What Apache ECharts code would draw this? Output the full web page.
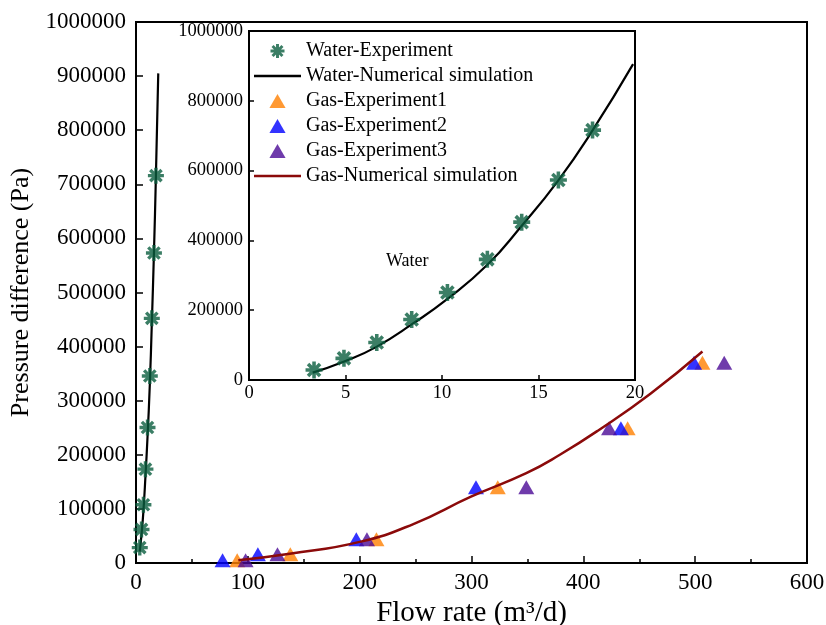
<!DOCTYPE html>
<html>
<head>
<meta charset="utf-8">
<script src="https://cdn.jsdelivr.net/npm/echarts@6/dist/echarts.min.js"></script>
<style>
  html, body { margin: 0; padding: 0; background: #fff; }
  #chart { width: 826px; height: 625px; }
</style>
</head>
<body>
<div id="chart"></div>
<script>
// water: flow rate (m3/d) vs pressure difference (Pa)
const waterExpX = [3.37, 4.92, 6.62, 8.43, 10.28, 12.35, 14.13, 16.03, 17.8];
const waterExpY = [28500, 62000, 107700, 173400, 250500, 345700, 452300, 573000, 716000];
const waterSimX = [3.3, 4.9, 6.6, 8.5, 10.3, 12.35, 14.1, 16.0, 17.8, 19.9];
const waterSimY = [21000, 52000, 95000, 162000, 233000, 330000, 440000, 570000, 715000, 905000];

// gas experiments
const gas1X = [90.5, 138, 215, 323.5, 439.6, 506.5];
const gas1Y = [5000, 16000, 44000, 140000, 249000, 370000];
const gas2X = [77.4, 109, 197, 304, 433.6, 499];
const gas2Y = [5000, 16000, 44000, 140000, 249000, 370000];
const gas3X = [98, 126.5, 206.5, 349, 423, 526];
const gas3Y = [5000, 16000, 44000, 140000, 249000, 370000];
const gasSimX = [91.5, 137.5, 200, 248, 300, 349, 379, 414, 460, 506.5];
const gasSimY = [5000, 17000, 39000, 72000, 123000, 166000, 200000, 246000, 313000, 391000];

const legendNames = ['Water-Experiment', 'Water-Numerical simulation', 'Gas-Experiment1',
  'Gas-Experiment2', 'Gas-Experiment3', 'Gas-Numerical simulation'];

const pair = (xs, ys) => xs.map((x, i) => [x, ys[i]]);

// 8 spoke asterisk built from rotated bars
function starPath() {
  const L = 10, w = 2.1;
  let p = '';
  [0, 45, 90, 135].forEach((deg) => {
    const a = deg * Math.PI / 180;
    const dx = Math.cos(a), dy = Math.sin(a);
    const nx = -dy, ny = dx;
    const pts = [
      [L * dx + w * nx, L * dy + w * ny],
      [L * dx - w * nx, L * dy - w * ny],
      [-L * dx - w * nx, -L * dy - w * ny],
      [-L * dx + w * nx, -L * dy + w * ny],
    ].map((q) => (q[0] + 12).toFixed(2) + ' ' + (q[1] + 12).toFixed(2));
    p += 'M' + pts[0] + ' L' + pts[1] + ' L' + pts[2] + ' L' + pts[3] + ' Z ';
  });
  return 'path://' + p;
}
const STAR = starPath();
const TRI = 'path://M0 13 L7.5 0 L15 13 Z';
const LINE_ICON = 'path://M0 0 H47 V2.4 H0 Z';

const FONT = 'Liberation Serif';
const GREEN = '#0a5e3e';
const ORANGE = '#ff8000';
const BLUE = '#0000ff';
const PURPLE = '#4b0a96';
const DARKRED = '#8b0a0a';

const chart = echarts.init(document.getElementById('chart'));

const axisCommon = {
  axisLine: { show: true, onZero: false, lineStyle: { color: '#000', width: 2 } },
  axisTick: { show: true, inside: true, length: 7, lineStyle: { color: '#000', width: 1.5 } },
  splitLine: { show: false },
  axisLabel: { color: '#000', fontFamily: FONT, formatter: (v) => String(v) },
};

const option = {
  animation: false,
  backgroundColor: '#fff',
  grid: [
    { left: 136, top: 22, width: 671, height: 541, show: true, borderColor: '#000', borderWidth: 2, outerBoundsMode: 'none' },
    { left: 249, top: 31, width: 386, height: 349, show: true, borderColor: '#000', borderWidth: 2, outerBoundsMode: 'none' },
  ],
  xAxis: [
    Object.assign({}, axisCommon, {
      gridIndex: 0, type: 'value', min: 0, max: 600, interval: 100,
      minorTick: { show: true, splitNumber: 2, length: 4, lineStyle: { color: '#000', width: 1.5 } },
      axisLabel: Object.assign({}, axisCommon.axisLabel, { fontSize: 23, margin: 8 }),
      name: 'Flow rate (m³/d)', nameLocation: 'middle', nameGap: 24,
      nameTextStyle: { color: '#000', fontFamily: FONT, fontSize: 29 },
    }),
    Object.assign({}, axisCommon, {
      gridIndex: 1, type: 'value', min: 0, max: 20, interval: 5,
      axisTick: Object.assign({}, axisCommon.axisTick, { length: 5 }),
      axisLabel: Object.assign({}, axisCommon.axisLabel, { fontSize: 18.5, margin: 4 }),
    }),
  ],
  yAxis: [
    Object.assign({}, axisCommon, {
      gridIndex: 0, type: 'value', min: 0, max: 1000000, interval: 100000,
      axisLabel: Object.assign({}, axisCommon.axisLabel, { fontSize: 23, margin: 10 }),
      name: 'Pressure difference (Pa)', nameLocation: 'middle', nameGap: 101,
      nameTextStyle: { color: '#000', fontFamily: FONT, fontSize: 26 },
    }),
    Object.assign({}, axisCommon, {
      gridIndex: 1, type: 'value', min: 0, max: 1000000, interval: 200000,
      axisTick: Object.assign({}, axisCommon.axisTick, { length: 5 }),
      axisLabel: Object.assign({}, axisCommon.axisLabel, { fontSize: 18.5, margin: 6 }),
    }),
  ],
  legend: {
    data: [
      { name: legendNames[0], icon: STAR },
      { name: legendNames[1], icon: LINE_ICON },
      { name: legendNames[2], icon: TRI },
      { name: legendNames[3], icon: TRI },
      { name: legendNames[4], icon: TRI },
      { name: legendNames[5], icon: LINE_ICON },
    ],
    orient: 'vertical',
    left: 254,
    top: 41,
    padding: 0,
    itemWidth: 47,
    itemHeight: 14,
    itemGap: 5,
    textStyle: { color: '#000', fontFamily: FONT, fontSize: 20 },
    selectedMode: false,
  },
  graphic: [
    {
      type: 'text', left: 386, top: 252,
      style: { text: 'Water', fill: '#000', font: '18px "Liberation Serif"' },
    },
  ],
  series: [
    {
      name: 'Water-Experiment', type: 'scatter', xAxisIndex: 0, yAxisIndex: 0,
      symbol: STAR, symbolSize: 16, itemStyle: { color: GREEN },
      data: pair(waterExpX, waterExpY), z: 3,
    },
    {
      name: 'Water-Numerical simulation', type: 'line', xAxisIndex: 0, yAxisIndex: 0,
      smooth: true, symbol: 'none', lineStyle: { color: '#000', width: 2.2 }, itemStyle: { color: '#000' },
      data: pair(waterSimX, waterSimY),
    },
    {
      name: 'Gas-Experiment1', type: 'scatter', xAxisIndex: 0, yAxisIndex: 0,
      symbol: TRI, symbolSize: [16, 14], itemStyle: { color: ORANGE },
      data: pair(gas1X, gas1Y),
    },
    {
      name: 'Gas-Experiment2', type: 'scatter', xAxisIndex: 0, yAxisIndex: 0,
      symbol: TRI, symbolSize: [16, 14], itemStyle: { color: BLUE },
      data: pair(gas2X, gas2Y),
    },
    {
      name: 'Gas-Experiment3', type: 'scatter', xAxisIndex: 0, yAxisIndex: 0,
      symbol: TRI, symbolSize: [16, 14], itemStyle: { color: PURPLE },
      data: pair(gas3X, gas3Y),
    },
    {
      name: 'Gas-Numerical simulation', type: 'line', xAxisIndex: 0, yAxisIndex: 0,
      smooth: true, symbol: 'none', lineStyle: { color: DARKRED, width: 2.5 }, itemStyle: { color: DARKRED },
      data: pair(gasSimX, gasSimY), z: 4,
    },
    // inset copies of the water data
    {
      name: 'Water-Experiment', type: 'scatter', xAxisIndex: 1, yAxisIndex: 1,
      symbol: STAR, symbolSize: 17, itemStyle: { color: GREEN },
      data: pair(waterExpX, waterExpY), z: 3,
    },
    {
      name: 'Water-Numerical simulation', type: 'line', xAxisIndex: 1, yAxisIndex: 1,
      smooth: true, symbol: 'none', lineStyle: { color: '#000', width: 2.2 }, itemStyle: { color: '#000' },
      data: pair(waterSimX, waterSimY),
    },
  ],
};

chart.setOption(option);
</script>
</body>
</html>
